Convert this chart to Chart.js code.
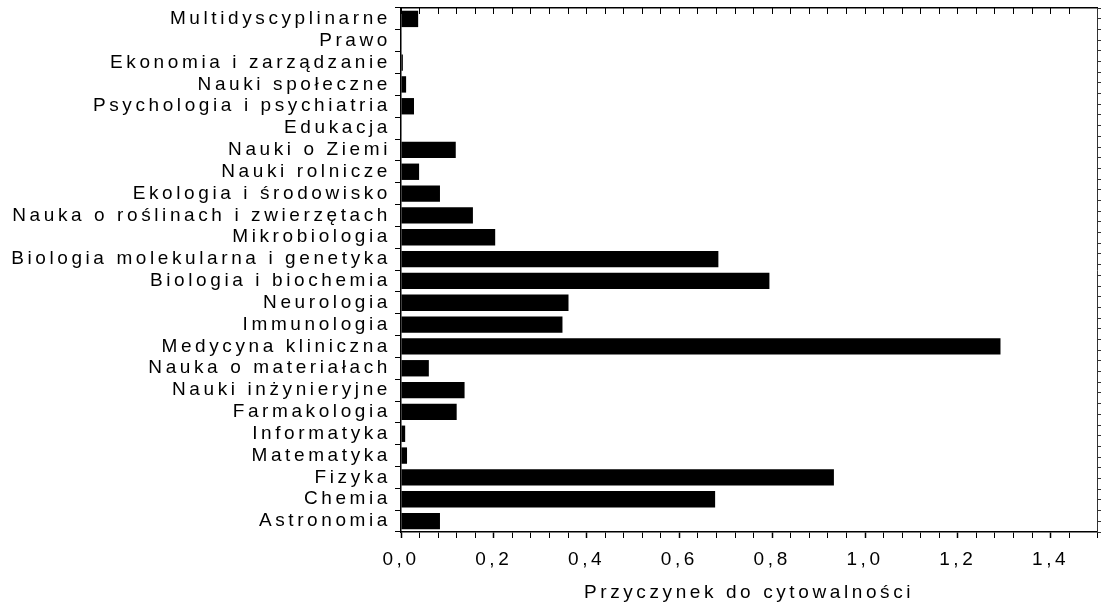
<!DOCTYPE html>
<html>
<head>
<meta charset="utf-8">
<script src="https://cdn.jsdelivr.net/npm/chart.js@4.4.1/dist/chart.umd.min.js"></script>
<style>
  html, body { margin: 0; padding: 0; background: #fff; }
</style>
</head>
<body>
<canvas id="chart" width="1102" height="604"></canvas>
<script>
const categories = [
  "Multidyscyplinarne",
  "Prawo",
  "Ekonomia i zarządzanie",
  "Nauki społeczne",
  "Psychologia i psychiatria",
  "Edukacja",
  "Nauki o Ziemi",
  "Nauki rolnicze",
  "Ekologia i środowisko",
  "Nauka o roślinach i zwierzętach",
  "Mikrobiologia",
  "Biologia molekularna i genetyka",
  "Biologia i biochemia",
  "Neurologia",
  "Immunologia",
  "Medycyna kliniczna",
  "Nauka o materiałach",
  "Nauki inżynieryjne",
  "Farmakologia",
  "Informatyka",
  "Matematyka",
  "Fizyka",
  "Chemia",
  "Astronomia"
];
const contribution = [
  0.037, 0.001, 0.004, 0.011, 0.028, 0.001, 0.118, 0.039,
  0.084, 0.155, 0.203, 0.684, 0.794, 0.361, 0.348, 1.292,
  0.060, 0.137, 0.120, 0.009, 0.013, 0.933, 0.677, 0.084
];
const majorTicks = [0, 0.2, 0.4, 0.6, 0.8, 1.0, 1.2, 1.4];
const axisTitle = "Przyczynek do cytowalności";

const FONT = { family: "'Liberation Sans', Arial, sans-serif", size: 19 };
const SPACING = "3.6px";

// reference text is drawn wide, so spread the letters a bit
const spacingPlugin = {
  id: "spacing",
  beforeUpdate(chart) { chart.ctx.letterSpacing = SPACING; },
  beforeDraw(chart) { chart.ctx.letterSpacing = SPACING; }
};

const isMajor = v => majorTicks.some(m => Math.abs(m - v) < 1e-6);

new Chart(document.getElementById("chart"), {
  type: "bar",
  data: {
    labels: categories,
    datasets: [{
      data: contribution,
      backgroundColor: "#000",
      borderWidth: 0,
      barPercentage: 0.75,
      categoryPercentage: 1,
      xAxisID: "x",
      yAxisID: "y"
    }]
  },
  options: {
    indexAxis: "y",
    responsive: false,
    animation: false,
    layout: { padding: 0 },
    plugins: { legend: { display: false }, tooltip: { enabled: false } },
    scales: {
      x: {
        type: "linear", position: "bottom", min: 0, max: 1.5,
        border: { color: "#000", width: 1.5 },
        grid: {
          drawOnChartArea: false, tickLength: 6, tickColor: "#000",
          tickWidth: ctx => isMajor(ctx.tick.value) ? 1.5 : 1
        },
        ticks: {
          stepSize: 0.04, autoSkip: false, maxRotation: 0, padding: 10,
          color: "#000", font: FONT,
          callback: v => isMajor(v) ? v.toFixed(1).replace(".", ",") : ""
        },
        title: { display: true, text: axisTitle, color: "#000", font: FONT, padding: { top: 0, bottom: 0 } },
        afterFit: s => { s.height = 72; s.paddingLeft = 0; s.paddingRight = 0; }
      },
      x2: {
        type: "linear", position: "top", min: 0, max: 1.5,
        border: { color: "#000", width: 1.5 },
        grid: { drawOnChartArea: false, tickLength: -6, tickColor: "#000" },
        ticks: { display: false, stepSize: 0.04, autoSkip: false },
        afterFit: s => { s.height = 8; s.paddingLeft = 0; s.paddingRight = 0; }
      },
      y: {
        position: "left",
        border: { color: "#000", width: 1.5 },
        grid: { drawOnChartArea: false, tickLength: 6, tickColor: "#000" },
        ticks: { autoSkip: false, padding: 4, color: "#000", font: FONT },
        afterFit: s => { s.width = 401; s.paddingTop = 0; s.paddingBottom = 0; }
      },
      y2: {
        type: "linear", position: "right", min: 0, max: 24,
        border: { color: "#333", dash: [2, 3] },
        grid: { drawOnChartArea: false, tickLength: 4, tickColor: "#333" },
        ticks: { display: false, stepSize: 0.5, autoSkip: false },
        afterFit: s => { s.width = 5; s.paddingTop = 0; s.paddingBottom = 0; }
      }
    }
  },
  plugins: [spacingPlugin]
});
</script>
</body>
</html>
